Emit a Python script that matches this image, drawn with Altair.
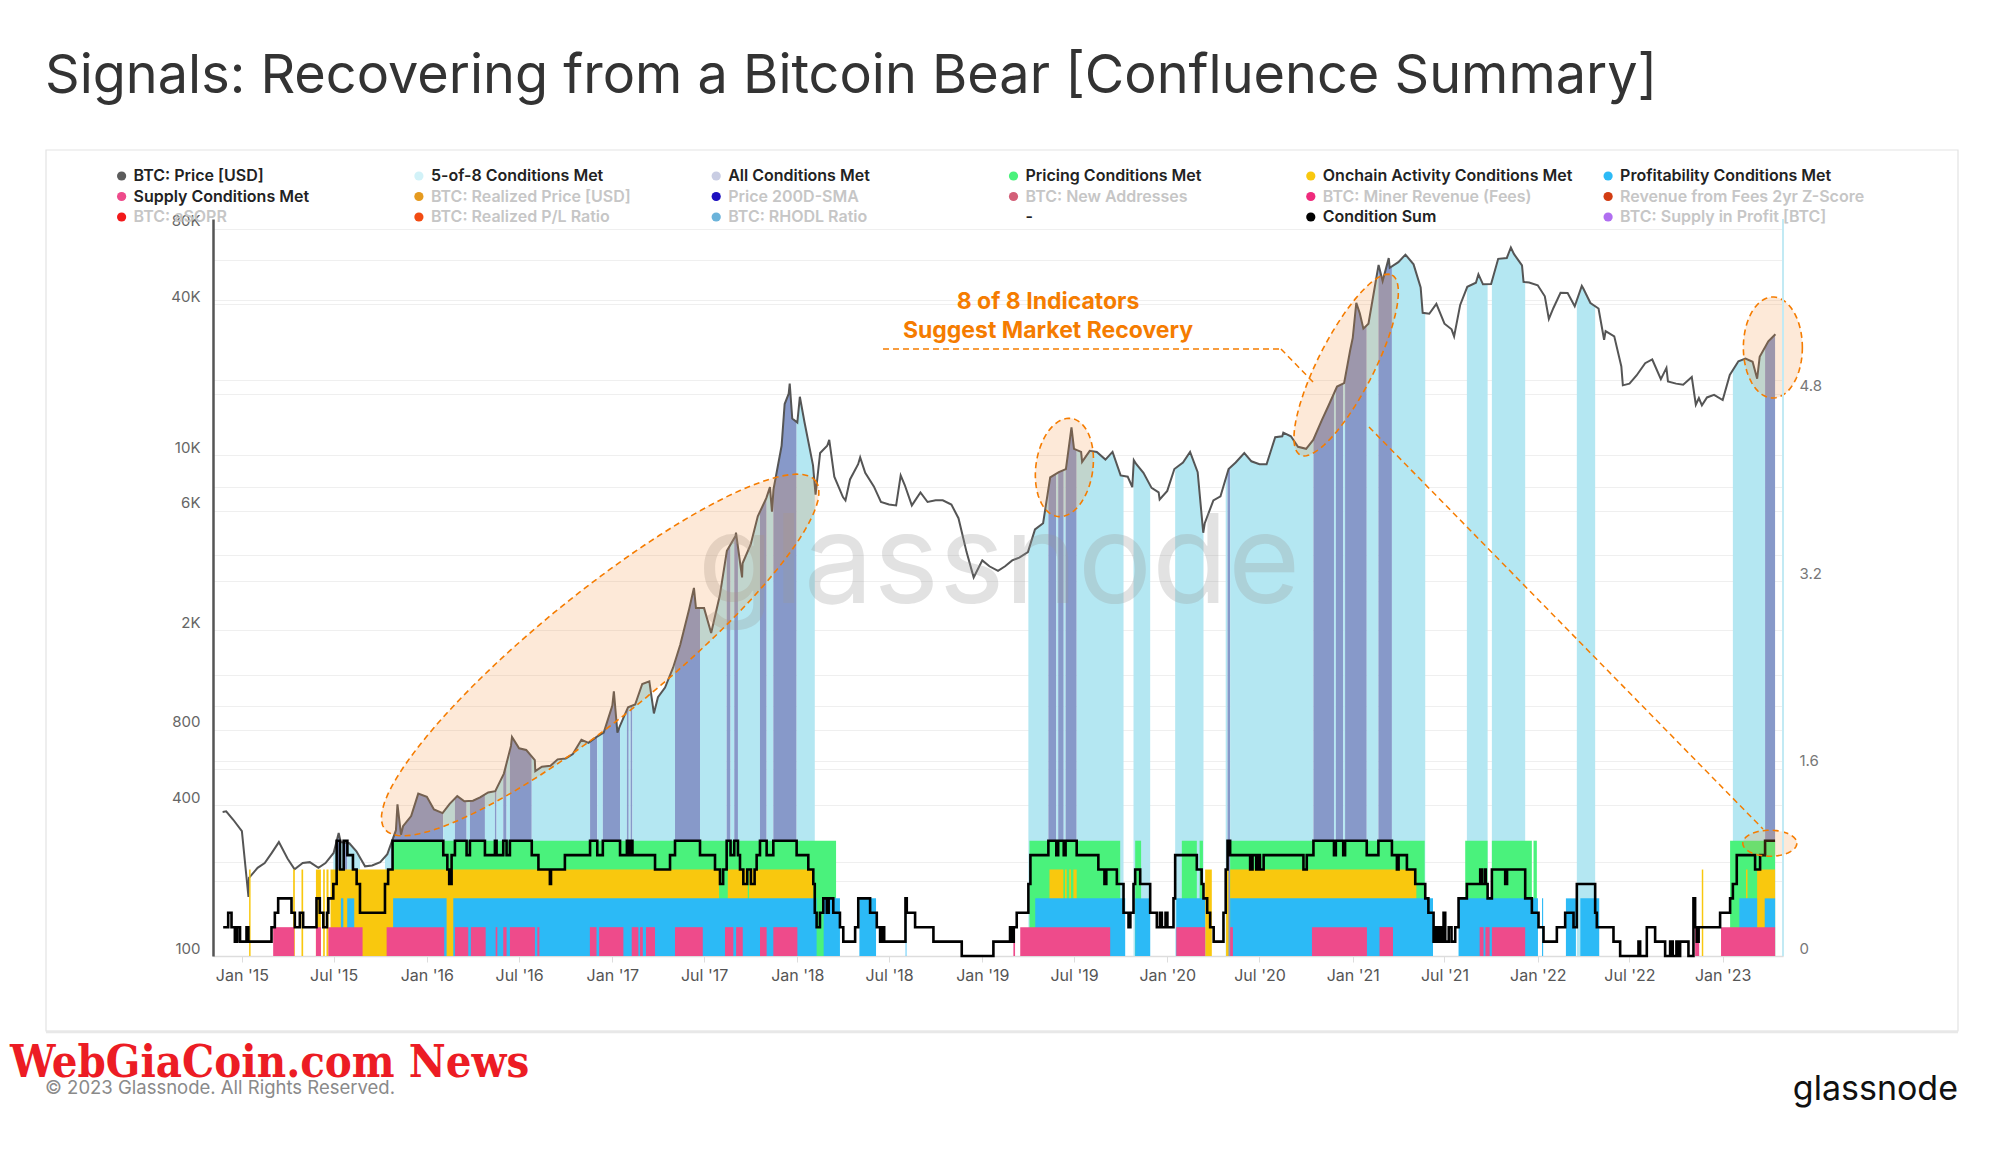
import numpy as np
import pandas as pd
import altair as alt

# ---------------------------------------------------------------- data
PRICE_START = "2014-12-01"   # semi-monthly samples (1st and 15th of each month)
PRICE_SMS = [
    378, 350,
    315, 205, 225, 235, 258, 285, 245, 222, 235, 237, 225, 235, 258, 285, 282, 262, 228, 230, 237, 255, 318, 330, 362, 445,
    432, 385, 372, 405, 435, 415, 417, 430, 450, 455, 535, 690, 675, 665, 605, 570, 575, 610, 615, 640, 730, 710, 750, 780,
    1000, 820, 985, 1010, 1220, 1250, 1080, 1180, 1420, 1750, 2400, 2450, 2450, 1950, 2750, 4150, 4750, 3700, 4400, 5700, 6750, 7300, 10900, 17600,
    13500, 13600, 9100, 10200, 10900, 8200, 6800, 8000, 9200, 8500, 7500, 6500, 6350, 6300, 7600, 6300, 7100, 6500, 6600, 6600, 6350, 5600, 4100, 3250,
    3800, 3600, 3450, 3600, 3800, 3900, 4100, 5050, 5350, 8150, 8550, 8800, 10600, 10300, 10400, 10300, 9600, 10300, 8300, 8200, 9200, 8500, 7400, 7100,
    7200, 8800, 9350, 10300, 8550, 5350, 6600, 6850, 8800, 9350, 10200, 9450, 9200, 9200, 11800, 11900, 11900, 10800, 10600, 11500, 13800, 15900, 18800, 19400,
    29400, 36800, 33500, 48900, 49600, 56000, 59000, 63200, 57800, 46700, 36700, 40200, 33500, 31800, 39800, 47000, 48800, 48100, 48200, 60800, 61300, 63600, 57200, 48900,
    47700, 43100, 38700, 44500, 44400, 39300, 46300, 40500, 38500, 31300, 29800, 22600, 19300, 20800, 23300, 24100, 20100, 19700, 19300, 19100, 20500, 16900, 17000, 17400,
    16600, 20900, 23700, 24300, 23600, 24700, 28500, 30400,
]
PRICE_EXTRA_DATES = [
    "2014-11-24", "2015-01-14", "2015-07-11", "2015-11-04", "2015-11-11", "2016-06-17", "2016-08-02",
    "2017-01-04", "2017-01-11", "2017-03-24", "2017-06-11", "2017-09-02", "2017-09-14", "2017-11-08",
    "2017-11-12", "2017-12-07", "2017-12-17", "2017-12-22", "2018-01-06", "2018-02-06", "2018-03-05",
    "2018-04-06", "2018-05-05", "2018-07-24", "2019-06-26", "2019-07-17", "2019-10-24", "2019-10-27",
    "2019-12-17", "2020-03-12", "2020-08-17", "2020-12-27", "2021-01-08", "2021-01-22", "2021-02-21",
    "2021-03-13", "2021-05-19", "2021-07-20", "2021-09-06", "2021-11-09", "2021-12-04", "2022-01-23",
    "2022-03-29", "2022-05-12", "2022-06-18", "2022-09-12", "2022-11-09", "2022-11-21", "2023-03-10",
]
PRICE_EXTRA = [
    376, 172, 310, 403, 305, 750, 547,
    1140, 780, 930, 2950, 4900, 3250, 7450,
    5950, 16000, 19300, 14000, 17100, 6950, 11500,
    6600, 9800, 8300, 12900, 9400, 7450, 9550,
    6650, 4900, 12300, 26300, 40600, 32000, 57500,
    61200, 37000, 29800, 52700, 67500, 49200, 35000,
    47400, 28900, 19000, 22300, 15900, 15800, 20200,
]

# Condition sum (0..8) change points, decimal years, drawn as a step line
COND_YEARS = [
    2014.899, 2014.926, 2014.944, 2014.962, 2014.975, 2014.990, 2015.025, 2015.035, 2015.160, 2015.178, 2015.196, 2015.268,
    2015.286, 2015.313, 2015.331, 2015.403, 2015.421, 2015.440, 2015.460, 2015.467, 2015.494, 2015.512, 2015.530, 2015.550,
    2015.570, 2015.600, 2015.620, 2015.638, 2015.773, 2015.790, 2015.814,
    2016.088, 2016.110, 2016.120, 2016.133, 2016.151, 2016.214, 2016.232, 2016.313, 2016.367, 2016.376, 2016.412, 2016.430,
    2016.448, 2016.566, 2016.602, 2016.664, 2016.670, 2016.745, 2016.881, 2016.920, 2016.950,
    2017.043, 2017.080, 2017.090, 2017.100, 2017.110, 2017.232, 2017.313, 2017.340, 2017.475, 2017.556, 2017.583, 2017.600,
    2017.619, 2017.640, 2017.660, 2017.680, 2017.691, 2017.709, 2017.730, 2017.750, 2017.770, 2017.781, 2017.799, 2017.835,
    2017.871, 2017.997,
    2018.060, 2018.087, 2018.095, 2018.105, 2018.123, 2018.141, 2018.160, 2018.170, 2018.195, 2018.231, 2018.249, 2018.313,
    2018.330, 2018.394, 2018.430, 2018.448, 2018.460, 2018.470, 2018.585, 2018.592, 2018.637, 2018.736, 2018.889,
    2019.060, 2019.150, 2019.160, 2019.170, 2019.186, 2019.249, 2019.260, 2019.357, 2019.400, 2019.410, 2019.440, 2019.450,
    2019.510, 2019.627, 2019.660, 2019.670, 2019.727, 2019.763, 2019.790, 2019.800, 2019.817, 2019.826, 2019.853, 2019.907,
    2019.943, 2019.960, 2019.970, 2019.990,
    2020.000, 2020.033, 2020.042, 2020.159, 2020.185, 2020.195, 2020.215, 2020.231, 2020.250, 2020.303, 2020.315, 2020.325,
    2020.339, 2020.447, 2020.460, 2020.480, 2020.490, 2020.500, 2020.520, 2020.735, 2020.753, 2020.789, 2020.900, 2020.910,
    2020.950, 2020.960,
    2021.077, 2021.140, 2021.213, 2021.240, 2021.249, 2021.294, 2021.339, 2021.393, 2021.410, 2021.438, 2021.450, 2021.460,
    2021.470, 2021.480, 2021.492, 2021.501, 2021.520, 2021.535, 2021.555, 2021.573, 2021.618, 2021.690, 2021.699, 2021.715,
    2021.720, 2021.730, 2021.753, 2021.825, 2021.835, 2021.933, 2021.969,
    2022.005, 2022.032, 2022.104, 2022.149, 2022.194, 2022.212, 2022.311, 2022.320, 2022.410, 2022.446, 2022.545, 2022.554,
    2022.590, 2022.635, 2022.689, 2022.716, 2022.730, 2022.750, 2022.760, 2022.770, 2022.815, 2022.842, 2022.851, 2022.860,
    2022.870, 2022.986,
    2023.040, 2023.055, 2023.076, 2023.175, 2023.202, 2023.229,
]
COND_LEVELS = [
    2, 3, 2, 1, 2, 1, 2, 1, 2, 3, 4, 3,
    2, 3, 2, 4, 3, 2, 3, 4, 5, 8, 6, 8,
    7, 6, 5, 3, 5, 6, 8,
    7, 6, 5, 7, 8, 7, 8, 7, 8, 7, 8, 7,
    8, 7, 6, 5, 6, 7, 8, 7, 8,
    7, 8, 7, 8, 7, 6, 7, 8, 7, 6, 5, 6,
    8, 7, 8, 7, 6, 5, 6, 5, 6, 7, 8, 7,
    8, 7,
    6, 5, 3, 2, 3, 4, 3, 4, 3, 2, 1, 2,
    4, 3, 2, 1, 2, 1, 4, 3, 2, 1, 0,
    1, 2, 1, 2, 3, 5, 7, 8, 7, 8, 7, 8,
    7, 6, 5, 6, 5, 3, 2, 3, 5, 6, 5, 3,
    2, 3, 2, 3,
    2, 4, 7, 6, 5, 4, 3, 2, 1, 3, 6, 8,
    7, 6, 7, 6, 7, 6, 7, 6, 7, 8, 7, 8,
    7, 8,
    7, 8, 7, 6, 7, 6, 5, 4, 3, 1, 2, 1,
    2, 1, 3, 1, 2, 1, 2, 4, 5, 6, 5, 6,
    5, 4, 6, 5, 6, 4, 3,
    2, 1, 2, 3, 2, 5, 3, 2, 1, 0, 1, 0,
    2, 1, 0, 1, 0, 1, 0, 1, 0, 4, 2, 1,
    2, 3,
    4, 5, 7, 6, 7, 8,
]
COND_END = 2023.283

# Category bands (decimal-year start, end)
PRICING_BANDS = [
    (2015.814, 2018.210), (2019.255, 2019.745), (2019.826, 2019.858), (2020.078, 2020.159), (2020.174, 2020.192),
    (2020.339, 2021.390), (2021.609, 2021.730), (2021.753, 2021.969), (2021.978, 2021.996), (2023.040, 2023.283),
]
ONCHAIN_BANDS = [
    (2015.039, 2015.047), (2015.277, 2015.286), (2015.322, 2015.331), (2015.400, 2015.427), (2015.439, 2015.448),
    (2015.457, 2015.468), (2015.479, 2017.578), (2017.625, 2017.733), (2017.740, 2018.088), (2019.363, 2019.438),
    (2019.447, 2019.456), (2019.470, 2019.479), (2019.492, 2019.510), (2020.204, 2020.240), (2020.317, 2020.330),
    (2020.339, 2021.345), (2022.887, 2022.895), (2023.126, 2023.134), (2023.186, 2023.283),
]
PROFIT_BANDS = [
    (2015.535, 2015.548), (2015.569, 2015.607), (2015.817, 2016.106), (2016.142, 2018.105), (2018.143, 2018.231),
    (2018.336, 2018.426), (2018.586, 2018.590), (2019.286, 2019.772), (2019.826, 2019.907), (2020.048, 2020.204),
    (2020.339, 2021.435), (2021.573, 2022.002), (2022.024, 2022.030), (2022.153, 2022.207), (2022.231, 2022.333),
    (2023.090, 2023.186), (2023.227, 2023.283),
]
SUPPLY_BANDS = [
    (2015.169, 2015.283), (2015.400, 2015.427), (2015.467, 2015.652), (2015.782, 2016.093), (2016.151, 2016.223),
    (2016.237, 2016.317), (2016.371, 2016.380), (2016.412, 2016.430), (2016.448, 2016.583), (2016.596, 2016.607),
    (2016.880, 2016.916), (2016.930, 2017.061), (2017.106, 2017.142), (2017.151, 2017.166), (2017.183, 2017.232),
    (2017.340, 2017.490), (2017.610, 2017.655), (2017.670, 2017.706), (2017.799, 2017.835), (2017.871, 2018.001),
    (2019.168, 2019.177), (2019.205, 2019.691), (2020.048, 2020.204), (2020.339, 2020.354), (2020.781, 2021.078),
    (2021.146, 2021.219), (2021.687, 2021.708), (2021.718, 2021.741), (2021.753, 2021.933), (2022.851, 2022.873),
    (2022.991, 2023.283),
]

# Annotation ellipses: centre date, centre price, radius x / y in px, rotation
ELL_DATES = ["2016-12-08", "2019-06-12", "2020-12-19", "2023-04-10", "2023-04-04"]
ELL_PRICES = [1592, 8930, 22900, 26900, 282]
ELL_RX = [277, 28.5, 101, 29.5, 27]
ELL_RY = [62, 49.5, 28, 50.5, 13]
ELL_ANGLE = [321, 8, 297, 0, 0]

LEGEND_LABELS = [
    "BTC: Price [USD]", "5-of-8 Conditions Met", "All Conditions Met", "Pricing Conditions Met",
    "Onchain Activity Conditions Met", "Profitability Conditions Met",
    "Supply Conditions Met", "BTC: Realized Price [USD]", "Price 200D-SMA", "BTC: New Addresses",
    "BTC: Miner Revenue (Fees)", "Revenue from Fees 2yr Z-Score",
    "BTC: aSOPR", "BTC: Realized P/L Ratio", "BTC: RHODL Ratio", "-", "Condition Sum", "BTC: Supply in Profit [BTC]",
]
LEGEND_DOTS = [
    "#5c5c5c", "#d2f2f8", "#c9cde3", "#4af27c", "#f9c80e", "#2cbaf6",
    "#ee4b8b", "#e59a1f", "#1c0fbf", "#d35f78", "#ef2a7c", "#d23c12",
    "#f2191b", "#f24b12", "#6bb3da", "", "#000000", "#b06ef0",
]
LEGEND_ACTIVE = [1, 1, 1, 1, 1, 1, 1, 0, 0, 0, 0, 0, 0, 0, 0, 1, 1, 0]

LEFT_TICKS = [100, 200, 400, 600, 800, 1000, 2000, 4000, 6000, 10000, 20000, 40000, 60000, 80000]
LEFT_LABELED = [100, 400, 800, 2000, 6000, 10000, 40000, 80000]
RIGHT_TICKS = [0, 0.8, 1.6, 2.4, 3.2, 4.0, 4.8, 5.6]

# ---------------------------------------------------------------- layout / style
W, H = 1570, 737
OX, OY = 213, 219          # page position of the plot origin
UNIT = 0.123               # one condition on the right-hand scale
CYAN, SLATE = "#b4e7f2", "#8799c9"
GREEN, YELLOW, BLUE, PINK = "#4af27c", "#f9c80e", "#2cbaf6", "#ee4b8b"
ORANGE = "#f57c00"
FONT = "Inter"


def yr2ts(y):
    return pd.Timestamp("2015-01-01") + pd.to_timedelta((float(y) - 2015.0) * 365.25, unit="D")


def iso(ts):
    return pd.Timestamp(ts).strftime("%Y-%m-%dT%H:%M:%SZ")


# price table
sms = pd.date_range(PRICE_START, periods=len(PRICE_SMS), freq="SMS")
price = pd.DataFrame({
    "ts": list(sms) + [pd.Timestamp(d) for d in PRICE_EXTRA_DATES],
    "price": list(PRICE_SMS) + list(PRICE_EXTRA),
}).sort_values("ts").reset_index(drop=True)
price["date"] = price["ts"].map(iso)
tp = price["ts"].values.astype("datetime64[ns]").astype("int64").astype(float)
lp = np.log10(price["price"].values.astype(float))


def price_at(ts):
    t = float(pd.Timestamp(ts).value)
    return float(10 ** np.interp(t, tp, lp))


# condition table
cond_ts = [yr2ts(y) for y in COND_YEARS]
cond_end = yr2ts(COND_END)
cond = pd.DataFrame({
    "date": [iso(t) for t in cond_ts] + [iso(cond_end)],
    "y": [lv * UNIT for lv in COND_LEVELS] + [COND_LEVELS[-1] * UNIT],
})

# fills under the price line: all met (8) / 5-of-8 met (>=5)
states = ["all" if lv == 8 else ("five" if lv >= 5 else "") for lv in COND_LEVELS]
rows = []
seg = 0
i = 0
n = len(states)
while i < n:
    j = i
    while j + 1 < n and states[j + 1] == states[i]:
        j += 1
    t0 = cond_ts[i]
    t1 = cond_ts[j + 1] if j + 1 < n else cond_end
    if states[i]:
        pts = [(t0, price_at(t0))]
        inner = price[(price["ts"] > t0) & (price["ts"] < t1)]
        pts += list(zip(inner["ts"], inner["price"]))
        pts.append((t1, price_at(t1)))
        for t, p in pts:
            rows.append({"seg": seg, "state": states[i], "date": iso(t), "price": p, "base": 100})
        seg += 1
    i = j + 1
fills = pd.DataFrame(rows)


def band_df(bands, level):
    return pd.DataFrame({
        "x": [iso(yr2ts(a)) for a, b in bands],
        "x2": [iso(yr2ts(b)) for a, b in bands],
        "lo": 0.0,
        "hi": level * UNIT,
    })


def ellipse_path(rx, ry):
    s = max(rx, ry)
    th = np.linspace(0, 2 * np.pi, 90, endpoint=False)
    pts = ["%.4f,%.4f" % (rx / s * np.cos(t), ry / s * np.sin(t)) for t in th]
    return "M" + " L".join(pts) + " Z"


ells = pd.DataFrame({
    "date": [d + "T00:00:00Z" for d in ELL_DATES],
    "price": ELL_PRICES,
    "path": [ellipse_path(a, b) for a, b in zip(ELL_RX, ELL_RY)],
    "size": [(2 * max(a, b)) ** 2 for a, b in zip(ELL_RX, ELL_RY)],
    "ang": ELL_ANGLE,
})

# ---------------------------------------------------------------- scales & axes
xscale = alt.Scale(type="utc", domain=[alt.DateTime(year=2014, month=11, date=5, utc=True),
                                       alt.DateTime(year=2023, month=4, date=30, utc=True)])
xaxis = alt.Axis(
    values=[alt.DateTime(year=y, month=m, date=1, utc=True) for y in range(2015, 2024) for m in (1, 7)
            if not (y == 2023 and m == 7)],
    labelExpr="utcFormat(datum.value, \"%b '%y\")", grid=False, domainColor="#dddddd", domainWidth=1.5,
    tickColor="#dddddd", tickSize=6, labelColor="#555555", labelFontSize=16, labelFont=FONT,
    labelPadding=5, labelFlush=False, labelOverlap=False, title=None)
yscaleL = alt.Scale(type="log", domain=[100, 87700], nice=False)
yaxisL = alt.Axis(
    orient="left", values=LEFT_TICKS,
    labelExpr="indexof([%s], datum.value) >= 0 ? (datum.value >= 1000 ? (datum.value / 1000) + 'K' : '' + datum.value) : ''"
              % ",".join(str(v) for v in LEFT_LABELED),
    grid=True, gridColor="#efefef", domain=True, domainColor="#555555", domainWidth=2.5, ticks=False,
    labelColor="#666666", labelFontSize=15, labelFont=FONT, labelPadding=13, labelOffset=-8,
    labelFlush=False, labelOverlap=False, title=None)
yscaleR = alt.Scale(domain=[0, 6.29], nice=False, zero=False)
yaxisR = alt.Axis(
    orient="right", values=RIGHT_TICKS,
    labelExpr="round(datum.value * 10) % 16 == 0 ? (datum.value == 0 ? '0' : format(datum.value, '.1f')) : ''",
    grid=True, gridColor="#efefef", domain=False, ticks=False, labelColor="#777777", labelFontSize=15,
    labelFont=FONT, labelPadding=16, labelOffset=-8, labelFlush=False, labelOverlap=False, title=None)

# ---------------------------------------------------------------- layer A: price
fill_layer = alt.Chart(fills).mark_area(opacity=1).encode(
    x=alt.X("date:T", scale=xscale, axis=xaxis),
    y=alt.Y("price:Q", scale=yscaleL, axis=yaxisL, stack=None),
    y2="base:Q",
    detail="seg:N",
    color=alt.Color("state:N", scale=alt.Scale(domain=["five", "all"], range=[CYAN, SLATE]), legend=None),
)
price_line = alt.Chart(price).mark_line(color="#555555", strokeWidth=2).encode(
    x=alt.X("date:T", scale=xscale, axis=xaxis),
    y=alt.Y("price:Q", scale=yscaleL, axis=yaxisL),
)
layerA = alt.layer(fill_layer, price_line)

# ---------------------------------------------------------------- layer B: conditions
def band_layer(bands, level, color):
    return alt.Chart(band_df(bands, level)).mark_rect(color=color, opacity=1).encode(
        x=alt.X("x:T", scale=xscale, axis=None),
        x2="x2:T",
        y=alt.Y("lo:Q", scale=yscaleR, axis=yaxisR),
        y2="hi:Q",
    )


cond_line = alt.Chart(cond).mark_line(color="#000000", strokeWidth=2.6, interpolate="step-after").encode(
    x=alt.X("date:T", scale=xscale, axis=None),
    y=alt.Y("y:Q", scale=yscaleR, axis=yaxisR),
)
layerB = alt.layer(
    band_layer(PRICING_BANDS, 8, GREEN),
    band_layer(ONCHAIN_BANDS, 6, YELLOW),
    band_layer(PROFIT_BANDS, 4, BLUE),
    band_layer(SUPPLY_BANDS, 2, PINK),
    cond_line,
)

# ---------------------------------------------------------------- layer C: ellipses
layerC = alt.Chart(ells).mark_point(
    filled=True, fill="#f7913a", fillOpacity=0.2, stroke=ORANGE, strokeWidth=1.6,
    strokeDash=[6, 4], strokeOpacity=1, opacity=1,
).encode(
    x=alt.X("date:T", scale=xscale, axis=None),
    y=alt.Y("price:Q", scale=yscaleL, axis=None),
    shape=alt.Shape("path:N", scale=None),
    size=alt.Size("size:Q", scale=None),
    angle=alt.Angle("ang:Q", scale=None),
)

# ---------------------------------------------------------------- decorations (pixel positions)
ONE = pd.DataFrame({"k": [0]})


def px(x):
    return x - OX


def py(y):
    return y - OY


def text(x, y, s, size, color, weight="normal", align="left", font=FONT, opacity=1.0):
    return alt.Chart(ONE).mark_text(
        text=s, fontSize=size, color=color, fontWeight=weight, align=align, baseline="middle",
        font=font, opacity=opacity,
    ).encode(x=alt.value(px(x)), y=alt.value(py(y)))


def rule(x1, y1, x2, y2, color, width=1.5, dash=None):
    kw = {"color": color, "strokeWidth": width}
    if dash:
        kw["strokeDash"] = dash
    return alt.Chart(ONE).mark_rule(**kw).encode(
        x=alt.value(px(x1)), x2=alt.value(px(x2)), y=alt.value(py(y1)), y2=alt.value(py(y2)))


panel = alt.Chart(ONE).mark_rect(fillOpacity=0, stroke="#e3e3e3", strokeWidth=1.2).encode(
    x=alt.value(px(46)), x2=alt.value(px(1958)), y=alt.value(py(150)), y2=alt.value(py(1031)))
panel_shadow = rule(46, 1032, 1958, 1032, "#e8e8e8", 2.5)

leg = pd.DataFrame({
    "label": LEGEND_LABELS,
    "dot": LEGEND_DOTS,
    "tc": ["#222222" if a else "#c6c6c6" for a in LEGEND_ACTIVE],
    "col": [k % 6 for k in range(len(LEGEND_LABELS))],
    "row": [k // 6 for k in range(len(LEGEND_LABELS))],
})
leg["dx"] = px(121.6) + leg["col"] * 297.3
leg["tx"] = leg["dx"] + 12
leg["ly"] = py(176) + leg["row"] * 20.5
legend_dots = alt.Chart(leg[leg["dot"] != ""]).mark_circle(size=85, opacity=1).encode(
    x=alt.X("dx:Q", scale=None, axis=None),
    y=alt.Y("ly:Q", scale=None, axis=None),
    color=alt.Color("dot:N", scale=None),
)
legend_text = alt.Chart(leg).mark_text(align="left", baseline="middle", fontSize=16, fontWeight=600, font=FONT).encode(
    x=alt.X("tx:Q", scale=None, axis=None),
    y=alt.Y("ly:Q", scale=None, axis=None),
    text="label:N",
    color=alt.Color("tc:N", scale=None),
)

title = text(45, 77, "Signals: Recovering from a Bitcoin Bear [Confluence Summary]", 54, "#333333")
watermark = text(999, 566, "glassnode", 124, "#999999", "normal", "center", opacity=0.28)
ann1 = text(1048, 302, "8 of 8 Indicators", 23, ORANGE, "bold", "center")
ann2 = text(1048, 331, "Suggest Market Recovery", 23, ORANGE, "bold", "center")
dash1 = rule(883, 349, 1281, 349, ORANGE, 1.5, [6, 4])
dash2 = rule(1281, 349, 1314, 383, ORANGE, 1.5, [6, 4])
dash3 = rule(1369, 427, 1763, 829, ORANGE, 1.5, [6, 4])
edge_line = rule(1783, 219, 1783, 956, "#c2eaf4", 2)
copyright = text(45, 1088, "© 2023 Glassnode. All Rights Reserved.", 18.5, "#8a8a8a")
brand = text(10, 1063, "WebGiaCoin.com News", 45, "#ec1c24", "bold", "left", font="DejaVu Serif Condensed")
logo = text(1958, 1090, "glassnode", 34, "#111111", "normal", "right")

chart = alt.layer(
    panel, panel_shadow, layerA, watermark, layerB, layerC,
    edge_line, dash1, dash2, dash3, ann1, ann2,
    legend_dots, legend_text, title, copyright, brand, logo,
).resolve_scale(
    x="independent", y="independent"
).properties(
    width=W, height=H,
    padding={"left": OX - 8, "top": OY - 8, "right": 1970 - (OX - 8) - W, "bottom": 1120 - (OY - 8) - H},
    autosize=alt.AutoSizeParams(type="none"),
    background="white",
).configure_view(stroke=None)

chart.save("out.html", embed_options={"renderer": "svg", "actions": False})
